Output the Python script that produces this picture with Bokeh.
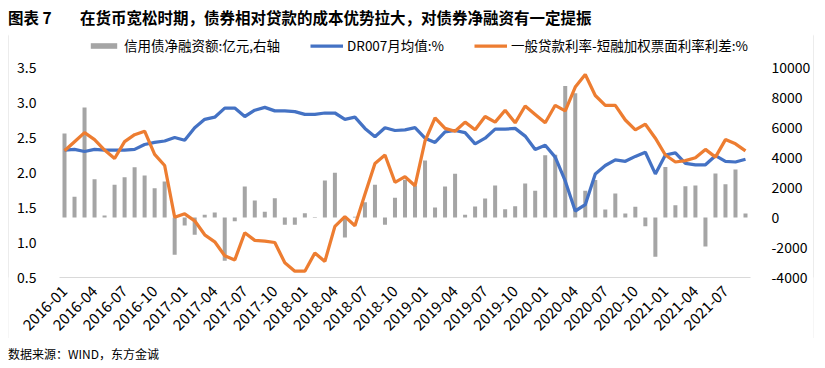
import math
from bokeh.plotting import figure
from bokeh.models import Range1d, LinearAxis, FixedTicker, Legend, LegendItem, Div, Spacer
from bokeh.layouts import column, row
from bokeh.embed import file_html
from bokeh.resources import INLINE

# ---------------- data ----------------
months = [f"{y}-{m:02d}" for y in range(2016, 2022) for m in range(1, 13)][:69]

tick_labels = ["2016-01", "2016-04", "2016-07", "2016-10", "2017-01", "2017-04", "2017-07",
               "2017-10", "2018-01", "2018-04", "2018-07", "2018-10", "2019-01", "2019-04",
               "2019-07", "2019-10", "2020-01", "2020-04", "2020-07", "2020-10", "2021-01",
               "2021-04", "2021-07"]

# 信用债净融资额: 亿元 (right axis)
bond_net = [5600, 1380, 7330, 2550, 130, 2180, 2690, 3350, 2800, 1950,
            2400, -2490, -530, -1150, 180, 330, -2890, -250, 2070, 1130,
            380, 1290, -490, -490, 290, 40, 2470, 2980, -1330, 50,
            1020, 2180, -490, 1310, 2520, 2110, 3800, 670, 2070, 2910,
            180, 730, 1270, 2130, 555, 755, 2270, 1790, 4150, 4180,
            8770, 8290, 1780, 2500, 540, 1600, 267, 720, -580, -2610,
            3370, 820, 2090, 2130, -1940, 2940, 2220, 3200, 270]

# DR007月均值: %
dr007 = [2.32, 2.33, 2.30, 2.33, 2.32, 2.32, 2.32, 2.33, 2.40, 2.43,
         2.45, 2.50, 2.46, 2.64, 2.76, 2.79, 2.92, 2.92, 2.80, 2.89,
         2.93, 2.88, 2.88, 2.87, 2.83, 2.83, 2.85, 2.85, 2.76, 2.79,
         2.63, 2.51, 2.64, 2.60, 2.61, 2.64, 2.49, 2.43, 2.58, 2.60,
         2.57, 2.41, 2.49, 2.62, 2.62, 2.63, 2.52, 2.33, 2.39, 2.22,
         1.88, 1.45, 1.54, 1.98, 2.10, 2.18, 2.16, 2.23, 2.29, 1.98,
         2.25, 2.28, 2.13, 2.11, 2.11, 2.24, 2.16, 2.15, 2.19]

# 一般贷款利率-短融加权票面利率利差: %
spread = [2.31, 2.44, 2.57, 2.47, 2.32, 2.20, 2.44, 2.54, 2.59, 2.26,
          2.10, 1.36, 1.41, 1.31, 1.11, 1.01, 0.81, 0.75, 1.14, 1.03,
          1.02, 1.00, 0.71, 0.59, 0.59, 0.85, 0.73, 1.23, 1.37, 1.24,
          1.69, 2.13, 2.25, 1.86, 1.94, 1.81, 2.45, 2.78, 2.63, 2.59,
          2.72, 2.61, 2.80, 2.72, 2.89, 2.71, 2.95, 2.83, 2.71, 2.96,
          2.88, 3.22, 3.40, 3.10, 2.96, 2.96, 2.75, 2.61, 2.69, 2.49,
          2.25, 2.15, 2.17, 2.21, 2.33, 2.22, 2.47, 2.41, 2.31]

left_ticks = [0.5, 1.0, 1.5, 2.0, 2.5, 3.0, 3.5]
right_ticks = [-4000, -2000, 0, 2000, 4000, 6000, 8000, 10000]

title_text = ('<span style="display:inline-block;width:72px">图表 7</span>'
              '在货币宽松时期，债券相对贷款的成本优势拉大，对债券净融资有一定提振')
source_text = "数据来源：WIND，东方金诚"
legend_labels = ["信用债净融资额:亿元,右轴", "DR007月均值:%", "一般贷款利率-短融加权票面利率利差:%"]

# ---------------- plot ----------------
FONT = "Noto Sans CJK SC"
BORDER = "#d9d9d9"
idx = list(range(len(months)))

# frame extends 32px above the top tick to host the legend (210px spans the tick range)
room = 32.0 / 210.0
left_top = left_ticks[-1] + (left_ticks[-1] - left_ticks[0]) * room
right_top = right_ticks[-1] + (right_ticks[-1] - right_ticks[0]) * room

p = figure(width=804, height=304, x_range=Range1d(-0.5, len(months) - 0.5),
           y_range=Range1d(left_ticks[0], left_top), output_backend="svg",
           toolbar_location=None, margin=0,
           min_border_left=50, min_border_right=60, min_border_top=1, min_border_bottom=61)
p.extra_y_ranges = {"right": Range1d(right_ticks[0], right_top)}
p.xgrid.visible = False
p.ygrid.visible = False
p.outline_line_color = None
p.background_fill_color = "white"
p.border_fill_color = "white"

bars = p.vbar(x=idx, top=bond_net, bottom=0, width=0.4, y_range_name="right",
              fill_color="#a5a5a5", line_color=None)
l1 = p.line(idx, dr007, line_color="#4472c4", line_width=3.25)
l2 = p.line(idx, spread, line_color="#ed7d31", line_width=3.25)

# x axis
xa = p.xaxis[0]
tick_pos = [months.index(t) for t in tick_labels]
xa.ticker = FixedTicker(ticks=tick_pos)
xa.major_label_overrides = {pos: lab for pos, lab in zip(tick_pos, tick_labels)}
xa.major_label_orientation = math.pi / 4
xa.axis_line_color = BORDER
xa.axis_line_width = 1
xa.major_tick_line_color = None
xa.minor_tick_line_color = None
xa.major_label_standoff = 5
xa.major_label_text_font = FONT
xa.major_label_text_font_size = "15px"
xa.major_label_text_color = "#000000"

# left axis
ya = p.yaxis[0]
ya.ticker = FixedTicker(ticks=left_ticks)
ya.major_label_overrides = {v: f"{v:.1f}" for v in left_ticks}
ya.axis_line_color = None
ya.major_tick_line_color = None
ya.minor_tick_line_color = None
ya.major_label_standoff = 17
ya.major_label_text_font = FONT
ya.major_label_text_font_size = "14px"
ya.major_label_text_color = "#000000"

# right axis
ra = LinearAxis(y_range_name="right", ticker=FixedTicker(ticks=right_ticks))
ra.major_label_overrides = {v: str(v) for v in right_ticks}
ra.axis_line_color = None
ra.major_tick_line_color = None
ra.minor_tick_line_color = None
ra.major_label_standoff = 15
ra.major_label_text_font = FONT
ra.major_label_text_font_size = "14px"
ra.major_label_text_color = "#000000"
p.add_layout(ra, "right")

legend = Legend(items=[LegendItem(label=legend_labels[0], renderers=[bars]),
                       LegendItem(label=legend_labels[1], renderers=[l1]),
                       LegendItem(label=legend_labels[2], renderers=[l2])],
                orientation="horizontal", location=(28, 222), margin=0, padding=0,
                spacing=30, glyph_width=33, glyph_height=7, label_height=16,
                label_standoff=4, border_line_color=None, background_fill_alpha=0,
                label_text_font=FONT, label_text_font_size="13.5px",
                label_text_color="#000000")
p.add_layout(legend, "center")


def line_fig(w, h):
    f = figure(width=w, height=h, output_backend="svg", toolbar_location=None,
               x_axis_type=None, y_axis_type=None, margin=0, min_border=0,
               x_range=Range1d(0, 1), y_range=Range1d(0, 1))
    f.border_fill_color = BORDER
    f.background_fill_color = BORDER
    f.outline_line_color = None
    f.grid.visible = False
    return f


box = column(line_fig(806, 1),
             row(line_fig(1, 304), p, line_fig(1, 304), spacing=0, margin=0),
             line_fig(806, 1), spacing=0, margin=0)

title = Div(text=title_text, width=809, height=25, margin=0,
            styles={"font-family": FONT, "font-size": "15.5px", "font-weight": "bold",
                    "line-height": "18px", "color": "#000000"})
src = Div(text=source_text, width=809, height=21, margin=0,
          styles={"font-family": FONT, "font-size": "12px", "line-height": "14px",
                  "padding-top": "8px", "color": "#000000"})

inner = column(title, box, src, spacing=0, margin=0)
layout = column(Spacer(width=817, height=8, margin=0),
                row(Spacer(width=8, height=10, margin=0), inner, spacing=0, margin=0),
                spacing=0, margin=0)

open("out.html", "w").write(file_html(layout, INLINE))
